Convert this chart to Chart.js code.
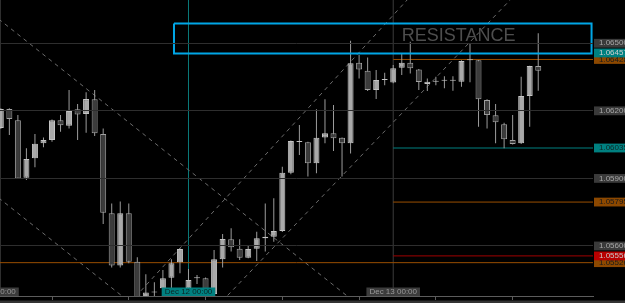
<!DOCTYPE html>
<html>
<head>
<meta charset="utf-8">
<title>EURUSD H1 - resistance</title>
<script src="https://cdn.jsdelivr.net/npm/chart.js@4.4.1/dist/chart.umd.min.js"></script>
<style>
  html, body { margin: 0; padding: 0; background: #000; }
  #wrap { position: relative; width: 625px; height: 303px; }
</style>
</head>
<body>
<div id="wrap"><canvas id="chart"></canvas></div>
<script>
/* ----------------------------------------------------------
   DATA  (hourly bars)
---------------------------------------------------------- */

const OPEN = [
  1.06124, 1.06208, 1.06158, 1.05903, 1.05989, 1.06056, 1.06070, 1.06158,
  1.06134, 1.06207, 1.06186, 1.06251, 1.06097, 1.05745, 1.05513, 1.05745,
  1.05530, 1.05360, 1.05393, 1.05412, 1.05459, 1.05528, 1.05412, 1.05457,
  1.05457, 1.05387, 1.05541, 1.05630, 1.05588, 1.05548, 1.05588, 1.05634,
  1.05641, 1.05667, 1.05925, 1.06062, 1.06061, 1.05967, 1.06082, 1.06100,
  1.06081, 1.06056, 1.06413, 1.06378, 1.06292, 1.06337, 1.06326, 1.06391,
  1.06413, 1.06384, 1.06319, 1.06329, 1.06333, 1.06334, 1.06329, 1.06425,
  1.06425, 1.06248, 1.06180, 1.06140, 1.06070, 1.06056, 1.06266, 1.06399
];
const HIGH = [
  1.06212, 1.06212, 1.06181, 1.06034, 1.06097, 1.06082, 1.06162, 1.06181,
  1.06292, 1.06230, 1.06282, 1.06292, 1.06122, 1.05789, 1.05797, 1.05789,
  1.05550, 1.05474, 1.05439, 1.05493, 1.05541, 1.05590, 1.05498, 1.05471,
  1.05460, 1.05582, 1.05653, 1.05679, 1.05630, 1.05600, 1.05663, 1.05789,
  1.05812, 1.05952, 1.06068, 1.06137, 1.06063, 1.06207, 1.06251, 1.06226,
  1.06082, 1.06511, 1.06448, 1.06437, 1.06381, 1.06369, 1.06403, 1.06452,
  1.06507, 1.06386, 1.06344, 1.06351, 1.06354, 1.06354, 1.06425, 1.06500,
  1.06426, 1.06251, 1.06230, 1.06147, 1.06181, 1.06351, 1.06400, 1.06544
];
const LOW = [
  1.06119, 1.06093, 1.05897, 1.05893, 1.05949, 1.06038, 1.06063, 1.06107,
  1.06122, 1.06070, 1.06103, 1.06088, 1.05698, 1.05505, 1.05505, 1.05523,
  1.05350, 1.05340, 1.05350, 1.05385, 1.05412, 1.05479, 1.05391, 1.05431,
  1.05382, 1.05375, 1.05505, 1.05575, 1.05538, 1.05546, 1.05533, 1.05575,
  1.05619, 1.05662, 1.05919, 1.06004, 1.05908, 1.05923, 1.06056, 1.06022,
  1.05908, 1.06011, 1.06344, 1.06288, 1.06252, 1.06314, 1.06322, 1.06359,
  1.06366, 1.06292, 1.06288, 1.06314, 1.06300, 1.06289, 1.06307, 1.06327,
  1.06129, 1.06122, 1.06056, 1.06034, 1.06051, 1.06053, 1.06129, 1.06289
];
const CLOSE = [
  1.06208, 1.06164, 1.05900, 1.05986, 1.06054, 1.06070, 1.06158, 1.06136,
  1.06199, 1.06184, 1.06252, 1.06100, 1.05748, 1.05513, 1.05745, 1.05530,
  1.05360, 1.05393, 1.05396, 1.05457, 1.05523, 1.05587, 1.05449, 1.05460,
  1.05387, 1.05541, 1.05631, 1.05594, 1.05548, 1.05587, 1.05634, 1.05641,
  1.05667, 1.05925, 1.06066, 1.06065, 1.05967, 1.06081, 1.06100, 1.06078,
  1.06056, 1.06411, 1.06384, 1.06292, 1.06337, 1.06340, 1.06389, 1.06413,
  1.06389, 1.06328, 1.06329, 1.06332, 1.06336, 1.06337, 1.06421, 1.06428,
  1.06251, 1.06181, 1.06149, 1.06074, 1.06053, 1.06266, 1.06399, 1.06378
];

// price scale: round-number grid levels and the coloured price tags
const GRID_PRICES = [1.06500, 1.06200, 1.05900, 1.05600];
const TAG_PRICES  = [1.06457, 1.06428, 1.06035, 1.05795, 1.05556, 1.05526];

// horizontal level lines (price, first bar; -1 = from the left edge)
const LEVEL_PRICES = [1.06428, 1.06035, 1.05795, 1.05556, 1.05526];
const LEVEL_START  = [46, 46, 46, 46, -1];

// vertical lines and their time tags
const VLINE_BARS  = [-1, 22, 46];
const VLINE_TIMES = ['Dec 11 00:00', 'Dec 12 00:00', 'Dec 13 00:00'];

// dashed trend lines: [bar, bar] and [price, price]
const TREND_BARS   = [[-1, 42], [-1, 16], [12, 52], [24, 62]];
const TREND_PRICES = [[1.06630, 1.05336], [1.05836, 1.05324], [1.05218, 1.06873], [1.05278, 1.06783]];

// resistance box and its caption
const ZONE_BARS   = [20.3, 69.25];
const ZONE_PRICES = [1.06588, 1.06455];
const NOTE_TEXT   = 'RESISTANCE';
const NOTE_BAR    = 47;
const NOTE_PRICE  = 1.06508;

// time-axis tick marks (every 9 bars)
const X_TICK_BARS = [6, 15, 24, 33, 42, 51, 60];

// visible window
const X_MIN = -0.096, X_MAX = 69.42;
const Y_MIN = 1.05378, Y_MAX = 1.06692;

/* ----------------------------------------------------------
   STYLE
---------------------------------------------------------- */
const C = {
  grid: '#2e2e2e',
  axis: '#5c5c5c',
  wick: '#9c9c9c',
  bullFill: '#a9a9a9', bullEdge: '#c4c4c4',
  bearFill: '#3c3c3c', bearEdge: '#a2a2a2',
  trend: '#6c6c6c',
  zone: '#00a6e6',
  note: '#4e4e4e',
  footer: '#333333',
  gridTag: '#3a3a3a', gridInk: '#a6a6a6'
};
const TAG_BOX   = ['#008080', '#8c4800', '#008080', '#8c4800', '#b80000', '#8c4800'];
const TAG_INK   = ['#cfcfcf', '#1a1a1a', '#0c2626', '#1a1a1a', '#c8c8c8', '#1a1a1a'];
const LEVEL_INK = ['#9a4e00', '#008080', '#9a4e00', '#a00000', '#9a4e00'];
const VLINE_INK = ['#3c3c3c', '#0a7a7a', '#3c3c3c'];
const VTAG_BOX  = ['#3c3c3c', '#008080', '#3c3c3c'];
const VTAG_INK  = ['#9a9a9a', '#0a2424', '#9a9a9a'];

Chart.defaults.font.family = '"Liberation Sans", Arial, sans-serif';

/* ----------------------------------------------------------
   DATASETS
---------------------------------------------------------- */
const BARS = OPEN.map((_, i) => i);
const isBull = (i) => CLOSE[i] >= OPEN[i];

function lineSet(points, color, extra) {
  return Object.assign({
    type: 'line', data: points, borderColor: color, borderWidth: 1,
    pointRadius: 0, fill: false, tension: 0, order: 5
  }, extra || {});
}

const datasets = [];

// resistance box, on top of the candles
datasets.push(lineSet([
  { x: ZONE_BARS[0], y: ZONE_PRICES[0] }, { x: ZONE_BARS[1], y: ZONE_PRICES[0] },
  { x: ZONE_BARS[1], y: ZONE_PRICES[1] }, { x: ZONE_BARS[0], y: ZONE_PRICES[1] },
  { x: ZONE_BARS[0], y: ZONE_PRICES[0] }
], C.zone, { borderWidth: 2, order: 0 }));

// candle bodies and wicks (floating bars)
datasets.push({
  type: 'bar', order: 1, grouped: false,
  data: BARS.map(i => ({ x: i, y: [OPEN[i], CLOSE[i]] })),
  backgroundColor: BARS.map(i => isBull(i) ? C.bullFill : C.bearFill),
  borderColor: BARS.map(i => isBull(i) ? C.bullEdge : C.bearEdge),
  borderWidth: 1, borderSkipped: false, barThickness: 6,
  minBarLength: 1, inflateAmount: 0
});
datasets.push({
  type: 'bar', order: 2, grouped: false,
  data: BARS.map(i => ({ x: i, y: [LOW[i], HIGH[i]] })),
  backgroundColor: C.wick, borderWidth: 0, barThickness: 1, inflateAmount: 0
});

// horizontal levels
LEVEL_PRICES.forEach((p, k) => {
  datasets.push(lineSet([{ x: LEVEL_START[k], y: p }, { x: X_MAX + 1, y: p }], LEVEL_INK[k]));
});

// vertical lines
VLINE_BARS.forEach((b, k) => {
  datasets.push(lineSet([{ x: b, y: Y_MIN - 0.01 }, { x: b, y: Y_MAX + 0.01 }], VLINE_INK[k], { order: 6 }));
});

// dashed trend lines
TREND_BARS.forEach((bars, k) => {
  datasets.push(lineSet([
    { x: bars[0], y: TREND_PRICES[k][0] }, { x: bars[1], y: TREND_PRICES[k][1] }
  ], C.trend, { borderDash: [4, 4] }));
});

/* ----------------------------------------------------------
   OVERLAY: caption, time tags, bottom strip
---------------------------------------------------------- */
const overlay = {
  id: 'overlay',
  beforeDraw(chart) {
    const { ctx, width, height } = chart;
    ctx.save();
    ctx.fillStyle = C.footer;
    ctx.fillRect(0, height - 2.5, width, 2.5);
    ctx.restore();
  },
  afterDraw(chart) {
    const { ctx, chartArea, scales: { x, y } } = chart;
    ctx.save();

    ctx.font = '18px "Liberation Sans", Arial, sans-serif';
    ctx.fillStyle = C.note;
    ctx.textAlign = 'left';
    ctx.textBaseline = 'alphabetic';
    ctx.fillText(NOTE_TEXT, x.getPixelForValue(NOTE_BAR), y.getPixelForValue(NOTE_PRICE));

    ctx.font = '8px "Liberation Sans", Arial, sans-serif';
    ctx.textAlign = 'center';
    ctx.textBaseline = 'middle';
    VLINE_BARS.forEach((b, k) => {
      const cx = x.getPixelForValue(b);
      const w = ctx.measureText(VLINE_TIMES[k]).width + 6;
      const h = 8.5;
      const top = chartArea.bottom - h;
      ctx.fillStyle = VTAG_BOX[k];
      ctx.fillRect(cx - w / 2, top, w, h);
      ctx.fillStyle = VTAG_INK[k];
      ctx.fillText(VLINE_TIMES[k], cx, top + h / 2 + 0.5);
    });

    ctx.restore();
  }
};

/* ----------------------------------------------------------
   CHART
---------------------------------------------------------- */
const tagIndex = (v) => TAG_PRICES.indexOf(v);

new Chart(document.getElementById('chart'), {
  type: 'bar',
  data: { datasets },
  options: {
    responsive: true,
    maintainAspectRatio: false,
    animation: false,
    events: [],
    layout: { padding: 0 },
    plugins: { legend: { display: false }, tooltip: { enabled: false } },
    scales: {
      x: {
        type: 'linear', position: 'bottom', offset: false,
        min: X_MIN, max: X_MAX,
        afterBuildTicks: (s) => { s.ticks = X_TICK_BARS.map(v => ({ value: v })); },
        afterFit: (s) => { s.height = 7; s.paddingLeft = 0; s.paddingRight = 0; },
        ticks: { display: false },
        grid: { drawOnChartArea: false, drawTicks: true, tickLength: 4, color: C.axis, offset: false },
        border: { color: C.axis }
      },
      y: {
        type: 'linear', position: 'right',
        min: Y_MIN, max: Y_MAX,
        afterBuildTicks: (s) => {
          s.ticks = GRID_PRICES.concat(TAG_PRICES).sort((a, b) => a - b).map(v => ({ value: v }));
        },
        afterFit: (s) => { s.width = 32; s.paddingTop = 0; s.paddingBottom = 0; },
        ticks: {
          autoSkip: false,
          padding: 6,
          font: { size: 8, lineHeight: 1.1 },
          callback: (v) => Number(v).toFixed(5),
          showLabelBackdrop: true,
          backdropPadding: { left: 5, right: 6, top: 0, bottom: 0 },
          backdropColor: (ctx) => {
            const k = tagIndex(ctx.tick.value);
            return k < 0 ? C.gridTag : TAG_BOX[k];
          },
          color: (ctx) => {
            const k = tagIndex(ctx.tick.value);
            return k < 0 ? C.gridInk : TAG_INK[k];
          }
        },
        grid: {
          z: 1,
          drawTicks: false,
          color: (ctx) => (ctx.tick && GRID_PRICES.includes(ctx.tick.value)) ? C.grid : 'rgba(0,0,0,0)'
        },
        border: { color: C.axis }
      }
    }
  },
  plugins: [overlay]
});
</script>
</body>
</html>
